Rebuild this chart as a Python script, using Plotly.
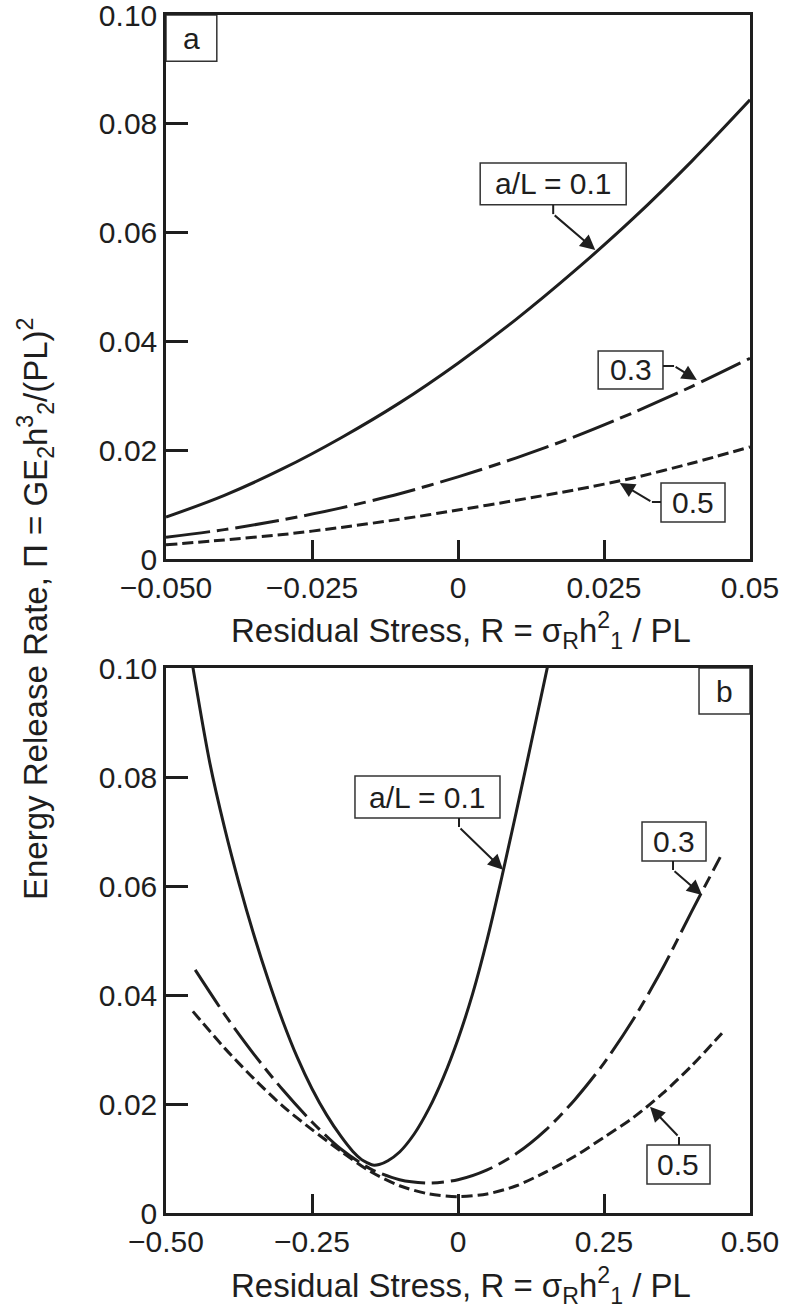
import plotly.graph_objects as go

# ---------------- Panel (a) data ----------------
xa = [-0.05, -0.04, -0.03, -0.02, -0.01, 0.0, 0.01, 0.02, 0.03, 0.04, 0.05]
a_01 = [0.0077, 0.0117, 0.0166, 0.0223, 0.0287, 0.0360, 0.0441, 0.0530, 0.0626, 0.0731, 0.0844]
a_03 = [0.0040, 0.0054, 0.0072, 0.0094, 0.0120, 0.0151, 0.0186, 0.0225, 0.0269, 0.0317, 0.0369]
a_05 = [0.0026, 0.0035, 0.0045, 0.0058, 0.0073, 0.0090, 0.0108, 0.0127, 0.0149, 0.0176, 0.0206]

# ---------------- Panel (b) data ----------------
xb_01 = [-0.460, -0.450, -0.425, -0.400, -0.375, -0.350, -0.325, -0.300, -0.275, -0.250,
         -0.225, -0.200, -0.180, -0.165, -0.155, -0.146, -0.135, -0.120, -0.100, -0.075,
         -0.050, -0.025, 0.000, 0.025, 0.050, 0.075, 0.100, 0.125, 0.150, 0.160]
yb_01 = [0.1040, 0.0976, 0.0826, 0.0708, 0.0605, 0.0512, 0.0428, 0.0352, 0.0285, 0.0228,
         0.0180, 0.0140, 0.0113, 0.0098, 0.0092, 0.0088, 0.0089, 0.0096, 0.0112, 0.0145,
         0.0191, 0.0249, 0.0319, 0.0402, 0.0502, 0.0616, 0.0737, 0.0861, 0.0986, 0.1036]
xb_03 = [-0.450, -0.400, -0.350, -0.300, -0.250, -0.200, -0.150, -0.100, -0.050, 0.000,
         0.050, 0.100, 0.150, 0.200, 0.250, 0.300, 0.350, 0.400, 0.449]
yb_03 = [0.0446, 0.0365, 0.0292, 0.0226, 0.0167, 0.0117, 0.0081, 0.0061, 0.0055, 0.0061,
         0.0079, 0.0109, 0.0152, 0.0208, 0.0275, 0.0355, 0.0448, 0.0553, 0.0653]
xb_05 = [-0.454, -0.400, -0.350, -0.300, -0.250, -0.200, -0.150, -0.100, -0.050, 0.000,
         0.050, 0.100, 0.150, 0.200, 0.250, 0.300, 0.350, 0.400, 0.452]
yb_05 = [0.0370, 0.0303, 0.0247, 0.0196, 0.0153, 0.0113, 0.0076, 0.0050, 0.0035, 0.0030,
         0.0035, 0.0050, 0.0075, 0.0104, 0.0139, 0.0175, 0.0219, 0.0270, 0.0330]

# tick labels
ya_ticks = [0, 0.02, 0.04, 0.06, 0.08, 0.10]
ya_text = ["0", "0.02", "0.04", "0.06", "0.08", "0.10"]
xa_ticks = [-0.05, -0.025, 0, 0.025, 0.05]
xa_text = ["\u22120.050", "\u22120.025", "0", "0.025", "0.05"]
xb_ticks = [-0.5, -0.25, 0, 0.25, 0.5]
xb_text = ["\u22120.50", "\u22120.25", "0", "0.25", "0.50"]

FONT = "Liberation Sans, Arial, Helvetica, sans-serif"
INK = "#1e1e1e"
FS = 30
FT = 33
W, H = 785, 1311

SOLID = dict(color=INK, width=3, shape="spline", smoothing=1)
DASHDOT = dict(color=INK, width=3, shape="spline", smoothing=0.8, dash="44px,7px,12px,7px")
DASH = dict(color=INK, width=3, shape="spline", smoothing=0.8, dash="11px,5px")

fig = go.Figure()
fig.add_trace(go.Scatter(x=xa, y=a_01, mode="lines", line=SOLID, xaxis="x", yaxis="y"))
fig.add_trace(go.Scatter(x=xa, y=a_03, mode="lines", line=DASHDOT, xaxis="x", yaxis="y"))
fig.add_trace(go.Scatter(x=xa, y=a_05, mode="lines", line=DASH, xaxis="x", yaxis="y"))
fig.add_trace(go.Scatter(x=xb_01, y=yb_01, mode="lines", line=SOLID, xaxis="x2", yaxis="y2"))
fig.add_trace(go.Scatter(x=xb_03, y=yb_03, mode="lines", line=DASHDOT, xaxis="x2", yaxis="y2"))
fig.add_trace(go.Scatter(x=xb_05, y=yb_05, mode="lines", line=DASH, xaxis="x2", yaxis="y2"))

xdom = [166 / W, 750 / W]
ax_common = dict(showline=True, linecolor=INK, linewidth=2.5, mirror=True,
                 ticks="inside", tickcolor=INK, tickwidth=2.5, showgrid=False,
                 zeroline=False, automargin=False, ticklabeloverflow="allow",
                 tickfont=dict(family=FONT, size=FS, color=INK))

fig.update_layout(
    template="none",
    width=W, height=H, margin=dict(l=0, r=0, t=0, b=0, pad=0),
    paper_bgcolor="white", plot_bgcolor="white", showlegend=False,
    font=dict(family=FONT, size=FS, color=INK),
    xaxis=dict(domain=xdom, anchor="y", range=[-0.05, 0.05], tickmode="array",
               tickvals=xa_ticks, ticktext=xa_text, ticklen=19, **ax_common),
    yaxis=dict(domain=[1 - 559 / H, 1 - 15 / H], anchor="x", range=[0, 0.1],
               tickmode="array", tickvals=ya_ticks, ticktext=ya_text, ticklen=22,
               **ax_common),
    xaxis2=dict(domain=xdom, anchor="y2", range=[-0.5, 0.5], tickmode="array",
                tickvals=xb_ticks, ticktext=xb_text, ticklen=19, **ax_common),
    yaxis2=dict(domain=[1 - 1213 / H, 1 - 668 / H], anchor="x2", range=[0, 0.1],
                tickmode="array", tickvals=ya_ticks, ticktext=ya_text, ticklen=22,
                **ax_common),
)

shapes = []
annos = []


def box(xr, yr, x0, x1, y0, y1, text):
    shapes.append(dict(type="rect", xref=xr, yref=yr, x0=x0, x1=x1, y0=y0, y1=y1,
                       line=dict(color="#333333", width=1.5), fillcolor="white",
                       layer="above"))
    annos.append(dict(xref=xr, yref=yr, x=(x0 + x1) / 2, y=(y0 + y1) / 2, text=text,
                      showarrow=False, font=dict(family=FONT, size=FS, color=INK),
                      xanchor="center", yanchor="middle"))


def stub(xr, yr, x0, y0, x1, y1):
    shapes.append(dict(type="line", xref=xr, yref=yr, x0=x0, y0=y0, x1=x1, y1=y1,
                       line=dict(color=INK, width=2), layer="above"))


def arrow(xr, yr, x0, y0, x1, y1):
    annos.append(dict(xref=xr, yref=yr, axref=xr, ayref=yr, x=x1, y=y1, ax=x0, ay=y0,
                      text="", showarrow=True, arrowhead=2, arrowsize=1.5,
                      arrowwidth=2, arrowcolor=INK, standoff=0, startstandoff=0))


# panel (a) labels
box("x", "y", -0.05, -0.0413, 0.0915, 0.1, "a")
box("x", "y", 0.0038, 0.0288, 0.0651, 0.0728, "a/L = 0.1")
stub("x", "y", 0.0163, 0.0651, 0.0163, 0.0634)
arrow("x", "y", 0.0163, 0.0634, 0.0235, 0.0568)
box("x", "y", 0.0240, 0.0351, 0.03125, 0.03824, "0.3")
stub("x", "y", 0.0351, 0.03548, 0.0370, 0.03548)
arrow("x", "y", 0.0370, 0.03548, 0.0409, 0.0329)
box("x", "y", 0.03476, 0.04572, 0.0068, 0.01397, "0.5")
stub("x", "y", 0.03476, 0.01048, 0.0332, 0.01048)
arrow("x", "y", 0.0332, 0.01048, 0.0277, 0.01397)

# panel (b) labels
box("x2", "y2", 0.4127, 0.5, 0.09156, 0.1, "b")
box("x2", "y2", -0.1764, 0.0719, 0.07248, 0.08018, "a/L = 0.1")
stub("x2", "y2", 0.0017, 0.07248, 0.0017, 0.07083)
arrow("x2", "y2", 0.0017, 0.07083, 0.0771, 0.0630)
box("x2", "y2", 0.3151, 0.4247, 0.06459, 0.07174, "0.3")
stub("x2", "y2", 0.3682, 0.06459, 0.3682, 0.06294)
arrow("x2", "y2", 0.3682, 0.06294, 0.4178, 0.05835)
box("x2", "y2", 0.3236, 0.4315, 0.00532, 0.01248, "0.5")
stub("x2", "y2", 0.3784, 0.01248, 0.3784, 0.01394)
arrow("x2", "y2", 0.3784, 0.01394, 0.3288, 0.0195)

xtitle = "Residual Stress, R = \u03c3<sub>R</sub>h<sup>2</sup><sub>1</sub> / PL"
annos.append(dict(xref="paper", yref="paper", x=461 / W, y=1 - 630 / H, text=xtitle,
                  showarrow=False, font=dict(family=FONT, size=FT, color=INK),
                  xanchor="center", yanchor="middle"))
annos.append(dict(xref="paper", yref="paper", x=461 / W, y=1 - 1285 / H, text=xtitle,
                  showarrow=False, font=dict(family=FONT, size=FT, color=INK),
                  xanchor="center", yanchor="middle"))
ytitle = ("Energy Release Rate, \u03a0 = GE<sub>2</sub>h<sup>3</sup><sub>2</sub>"
          "/(PL)<sup>2</sup>")
annos.append(dict(xref="paper", yref="paper", x=36 / W, y=1 - 609 / H, text=ytitle,
                  showarrow=False, textangle=-90,
                  font=dict(family=FONT, size=FT, color=INK),
                  xanchor="center", yanchor="middle"))

fig.update_layout(shapes=shapes, annotations=annos)
fig.write_html("out.html")
